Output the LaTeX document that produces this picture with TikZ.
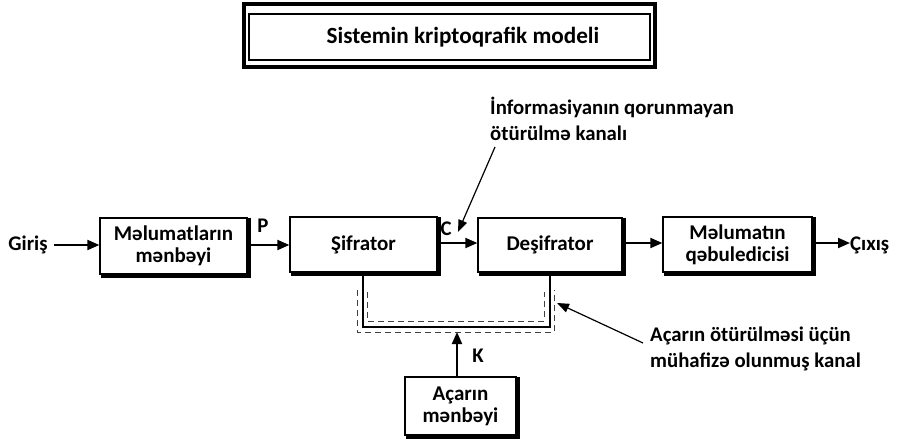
\documentclass[tikz,border=0pt]{standalone}
\usepackage{fontspec}
\setmainfont{Carlito}
\usetikzlibrary{arrows.meta}
\begin{document}
\begin{tikzpicture}[x=1pt,y=-1pt,
  blk/.style={draw,line width=1.3pt,minimum width=#1,minimum height=56pt,
    align=center,font=\fontsize{21}{22}\selectfont\bfseries,inner sep=0pt},
  blk/.default=147pt,
  lbl/.style={font=\fontsize{20.8}{25.5}\selectfont\bfseries,inner sep=0pt},
  flow/.style={line width=2pt,-{Triangle[length=12pt,width=10pt]}},
  pointer/.style={line width=1.2pt,-{Triangle[length=12pt,width=9pt]}},
  chan/.style={dash pattern=on 6pt off 4pt,line width=0.9pt,black!75},
  shadowline/.style={line width=2.6pt}]
\useasboundingbox (0,0) rectangle (899,439);

% title frame: heavy outer border, thin inner border
\node[draw,line width=3.5pt,minimum width=411pt,minimum height=63pt] (frame) at (449.5,35.5) {};
\node[draw,line width=1.2pt,minimum width=401pt,minimum height=46pt] (inner) at (449.5,37) {};
\node[font=\fontsize{23.2}{24}\selectfont\bfseries,inner sep=0pt] (title) at (463,37) {Sistemin kriptoqrafik modeli};

% blocks
\node[blk] (src) at (173.5,246) {Məlumatların\\mənbəyi};
\node[blk,minimum height=55pt] (enc) at (363.5,244.5) {Şifrator};
\node[blk=144pt,minimum height=54pt] (dec) at (550,245) {Deşifrator};
\node[blk=149pt,minimum height=55pt] (rcv) at (737.5,244.5) {Məlumatın\\qəbuledicisi};
\node[blk=111pt,minimum height=58pt] (key) at (460.5,406) {Açarın\\mənbəyi};

% heavy lower and right edges of the blocks
\foreach \b in {src,enc,dec,rcv,key}{
  \draw[shadowline] ([xshift=2pt,yshift=-1pt]\b.north east) -- ([xshift=2pt,yshift=-2pt]\b.south east)
    -- ([xshift=2pt,yshift=-2pt]\b.south west);
}

% outer labels
\node[lbl] (in) at (28,245) {Giriş};
\node[lbl,anchor=west] (out) at (850,245) {Çıxış};
\node[lbl] (P) at (263,226) {P};
\node[lbl] (C) at (446,229) {C};
\node[lbl] (K) at (478,356) {K};

% main data path
\draw[flow] (in.east) ++(6pt,0) coordinate (inA) -- (inA -| src.west);
\draw[flow] (src.east |- 0,245) -- (enc.west |- 0,245);
\draw[flow] (enc.east |- 0,243) -- (dec.west |- 0,243);
\draw[flow] (dec.east |- 0,243) -- (rcv.west |- 0,243);
\draw[flow] (rcv.east |- 0,243) -- (out.west |- 0,243);

% key channel between encryptor and decryptor
\coordinate (sL) at (363,272);
\coordinate (sR) at (550,272);
\draw[line width=1.6pt] (sL) -- (363,327) -- (550,327) -- (sR);
\draw[chan] (367,292) -- (367,321) -- (544,321) -- (544,292);
\draw[chan] (357,290) -- (357,332) coordinate (oBL) -- (554,332) -- (554,290);
\coordinate (kTip) at (457,332);
\draw[flow] (key.north -| kTip) -- (kTip);

% channel annotations
\node[lbl,anchor=north west,align=left] (unsafe) at (490,97) {İnformasiyanın qorunmayan\\ötürülmə kanalı};
\coordinate (uStart) at (495,147);
\coordinate (uTip) at (458,232);
\draw[pointer] (uStart) -- (uTip);

\node[lbl,anchor=north west,align=left] (safe) at (650,327) {Açarın ötürülməsi üçün\\mühafizə olunmuş kanal};
\coordinate (sStart) at (643,343);
\coordinate (sTip) at (557,303);
\draw[pointer] (sStart) -- (sTip);
\end{tikzpicture}
\end{document}
